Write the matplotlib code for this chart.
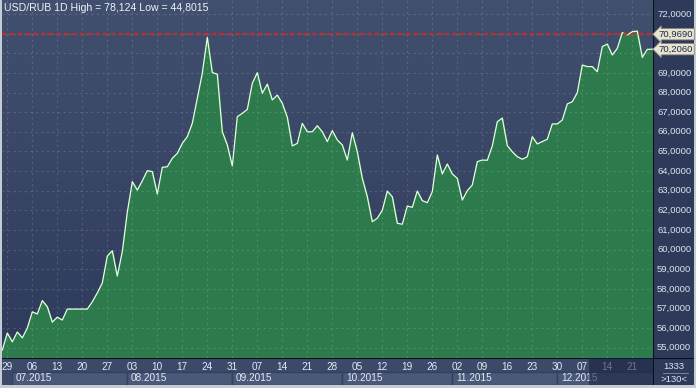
import numpy as np
import pandas as pd
import matplotlib
matplotlib.use('Agg')
import matplotlib.pyplot as plt
from matplotlib.patches import Rectangle
from matplotlib.colors import LinearSegmentedColormap

# USD/RUB daily close (one value per trading day)
rates = [54.88, 55.75, 55.30, 55.80, 55.50, 56.00, 56.83, 56.72, 57.40, 57.09,
         56.30, 56.56, 56.41, 56.97, 56.97, 56.97, 56.97, 56.97, 57.34, 57.79,
         58.30, 59.67, 59.94, 58.65, 59.90, 61.90, 63.46, 63.03, 63.50, 64.02,
         63.97, 62.83, 64.19, 64.22, 64.65, 64.90, 65.41, 65.75, 66.43, 67.70,
         68.98, 70.81, 69.01, 68.94, 66.00, 65.33, 64.26, 66.77, 66.94, 67.14,
         68.47, 69.01, 67.96, 68.43, 67.62, 67.87, 67.45, 66.74, 65.28, 65.41,
         66.43, 66.00, 66.00, 66.31, 66.00, 65.50, 66.06, 65.58, 65.33, 64.56,
         65.95, 64.98, 63.63, 62.69, 61.42, 61.60, 62.00, 62.98, 62.69, 61.34,
         61.29, 62.22, 62.15, 62.98, 62.49, 62.39, 62.95, 64.82, 63.85, 64.36,
         63.85, 63.63, 62.52, 63.00, 63.29, 64.48, 64.56, 64.55, 65.28, 66.51,
         66.70, 65.30, 64.98, 64.73, 64.60, 64.73, 65.75, 65.38, 65.50, 65.62,
         66.40, 66.40, 66.60, 67.42, 67.53, 67.99, 69.40, 69.32, 69.32, 69.06,
         70.34, 70.47, 69.91, 70.25, 71.05, 70.93, 71.10, 71.13, 69.79, 70.20,
         70.206]
dates = pd.bdate_range('2015-06-26', periods=len(rates))
title = 'USD/RUB 1D High = 78,124 Low = 44,8015'
level_line = 70.969
last_value = 70.206
y_ticks = list(range(55, 73))
hidden_ticks = [70, 71]  # covered by the price tags
bar_count = '1333'
visible_bars = '>130<'

W, H = 696, 388
plt.rcParams['font.family'] = ['Liberation Sans', 'DejaVu Sans']

def px_rect(x0, y0, x1, y1):
    return [x0 / W, 1 - y1 / H, (x1 - x0) / W, (y1 - y0) / H]

fig = plt.figure(figsize=(W / 100, H / 100), dpi=100, facecolor='#c4ccd4')

idx = np.arange(len(rates))
xmin, xmax = -0.06, 130.14
ymin, ymax = 54.476, 72.713

# main plot
ax = fig.add_axes(px_rect(2, 0, 653, 358))
ax.set_xlim(xmin, xmax)
ax.set_ylim(ymin, ymax)
grad = np.linspace(0, 1, 256).reshape(-1, 1)
bg_cmap = LinearSegmentedColormap.from_list('bg', ['#2e3a5b', '#42506f'])
ax.imshow(grad, extent=[xmin, xmax, ymin, ymax], origin='lower', aspect='auto',
          cmap=bg_cmap, zorder=0)
ax.fill_between(idx, rates, ymin, color='#2d7b4c', zorder=1)
ax.plot(idx, rates, color='#e4ffe0', lw=0.9, zorder=3)

mondays = [i for i, d in enumerate(dates) if d.weekday() == 0]
for m in mondays:
    ax.axvline(m, color='white', alpha=0.14, lw=0.8, ls=(0, (2, 3)), zorder=2)
for v in y_ticks:
    ax.axhline(v, color='white', alpha=0.14, lw=0.8, ls=(0, (2, 3)), zorder=2)
ax.axhline(level_line, color='#e8201c', lw=1.3, ls=(0, (2.5, 1.8)), zorder=4)
ax.set_xticks([])
ax.set_yticks([])
for s in ax.spines.values():
    s.set_visible(False)
ax.text(0.003, 0.977, title, transform=ax.transAxes, color='#eef2f8',
        fontsize=7.6, ha='left', va='center')

# right price scale
ay = fig.add_axes(px_rect(653, 0, 694, 385))
ay.set_facecolor('#2d3a59')
ay.set_xlim(0, 1)
ay.set_ylim(ymin - 27 / 19.63, ymax)
ay.set_xticks([])
ay.set_yticks([])
for s in ay.spines.values():
    s.set_visible(False)
ay.axvline(0, color='#0a0f1a', lw=1.5)
for v in y_ticks:
    if v in hidden_ticks:
        continue
    ay.text(0.1, v, f'{v},0000', color='#dbe5f2', fontsize=6.8, ha='left', va='center')
for v in [level_line, last_value]:
    ay.text(0.14, v, f'{v:.4f}'.replace('.', ','), color='#1a2a48', fontsize=6.8,
            ha='left', va='center', zorder=5,
            bbox=dict(boxstyle='larrow,pad=0.12', fc='#e8e4cf', ec='#8a8a80', lw=0.6))

# bottom right counter
ab = fig.add_axes(px_rect(654, 358, 694, 385))
ab.set_xlim(0, 1)
ab.set_ylim(0, 1)
ab.axis('off')
ab.add_patch(Rectangle((0, 0), 1, 1, color='#2d3a59'))
ab.axhline(1, color='#0a0f1a', lw=1.5)
ab.text(0.5, 0.70, bar_count, color='#dbe5f2', fontsize=6.8, ha='center', va='center')
ab.plot([0.22, 0.85], [0.45, 0.45], color='#8090a8', lw=0.6)
ab.text(0.5, 0.20, visible_bars, color='#dbe5f2', fontsize=6.8, ha='center', va='center')

# time scale
axx = fig.add_axes(px_rect(2, 358, 653, 385))
axx.set_xlim(xmin, xmax)
axx.set_ylim(0, 1)
axx.set_facecolor('#3c4968')
axx.set_xticks([])
axx.set_yticks([])
for s in axx.spines.values():
    s.set_visible(False)
axx.axhline(1, color='#0a0f1a', lw=1.5)
for m in mondays:
    axx.text(m, 0.68, dates[m].strftime('%d'), color='#e2eaf4', fontsize=7.2,
             ha='center', va='center')
month_starts = [i for i in range(1, len(dates)) if dates[i].month != dates[i - 1].month]
for k, s in enumerate(month_starts):
    x0 = s - 1
    x1 = month_starts[k + 1] - 1 if k + 1 < len(month_starts) else xmax
    axx.add_patch(Rectangle((x0, 0.0), x1 - x0, 0.48, fc='#4b5979', ec='#33405e', lw=1))
    axx.text(x0 + 0.7, 0.25, dates[s].strftime('%m.%Y'), color='#e2eaf4',
             fontsize=7.2, ha='left', va='center')
axx.add_patch(Rectangle((117.3, 0), xmax - 117.3, 1, fc='#1a2440', alpha=0.6,
                        ec='none', zorder=5))

fig.savefig('out.png', dpi=100, facecolor=fig.get_facecolor())
